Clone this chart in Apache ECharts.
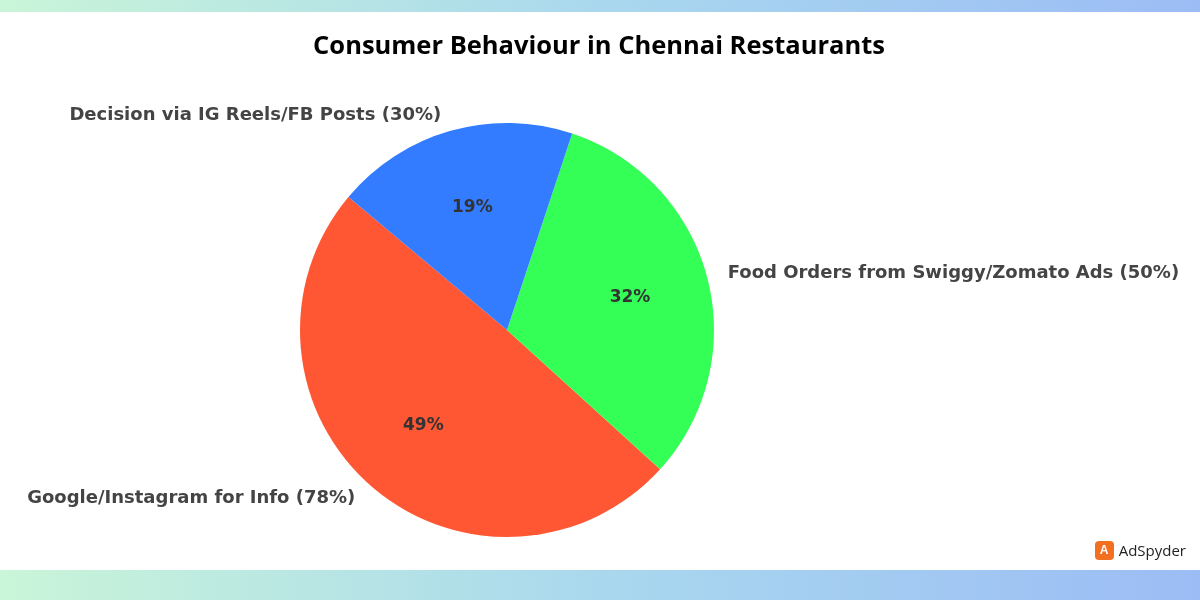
<!DOCTYPE html>
<html><head><meta charset="utf-8">
<script src="https://cdn.jsdelivr.net/npm/echarts@6/dist/echarts.min.js"></script>
<style>
html,body{margin:0;padding:0;background:#fff;}
#wrap{position:relative;width:1200px;height:600px;overflow:hidden;background:#fff;}
.band{position:absolute;left:0;width:1200px;background:linear-gradient(90deg,#c9f5d8,#a9d8ee 50%,#9cbcf5);}
#chart{position:absolute;left:0;top:0;width:1200px;height:600px;}
#logo{position:absolute;right:14px;top:540px;font:500 15px "Open Sans",sans-serif;color:#222;display:flex;align-items:center;gap:5px;}
#logo span.ic{display:inline-block;width:19px;height:19px;border-radius:4px;background:#f37021;color:#fff;font:bold 12px sans-serif;text-align:center;line-height:19px;}
</style></head>
<body><div id="wrap">
<div class="band" style="top:0;height:12px"></div>
<div class="band" style="top:570px;height:30px"></div>
<div id="chart"></div>
<div id="logo"><span class="ic">A</span>AdSpyder</div>
</div>
<script>
const title = "Consumer Behaviour in Chennai Restaurants";
const categories = ["Google/Instagram for Info (78%)", "Food Orders from Swiggy/Zomato Ads (50%)", "Decision via IG Reels/FB Posts (30%)"];
const values = [78, 50, 30];
const colors = ["#FF5733", "#33FF57", "#337BFF"];

const chart = echarts.init(document.getElementById('chart'));
const R = 207;
const data = categories.map((c,i)=>({name:c,value:values[i],itemStyle:{color:colors[i]}}));
chart.setOption({
  animation:false,
  title:{text:title,left:'center',top:29,left:594,textAlign:'center',textStyle:{fontFamily:'Open Sans, sans-serif',fontWeight:'bold',fontSize:25.5,color:'#000'}},
  series:[
    {type:'pie',center:[507,330],radius:[0,R],startAngle:140,clockwise:false,
     data:data,itemStyle:{borderWidth:0},silent:true,
     label:{show:true,position:'outside',overflow:'none',formatter:'{b}',fontFamily:'DejaVu Sans',fontWeight:'bold',fontSize:18,color:'#444'},
     labelLine:{show:false,length:16,length2:0},emphasis:{disabled:true}},
    {type:'pie',center:[507,330],radius:[R*0.2,R],startAngle:140,clockwise:false,
     data:data.map(d=>({name:d.name,value:d.value,itemStyle:{color:'rgba(0,0,0,0)'}})),silent:true,
     label:{show:true,position:'inside',formatter:p=>Math.round(p.percent)+'%',fontFamily:'DejaVu Sans',fontWeight:'bold',fontSize:17,color:'#333'},
     labelLine:{show:false},emphasis:{disabled:true}}
  ]
});
</script></body></html>
